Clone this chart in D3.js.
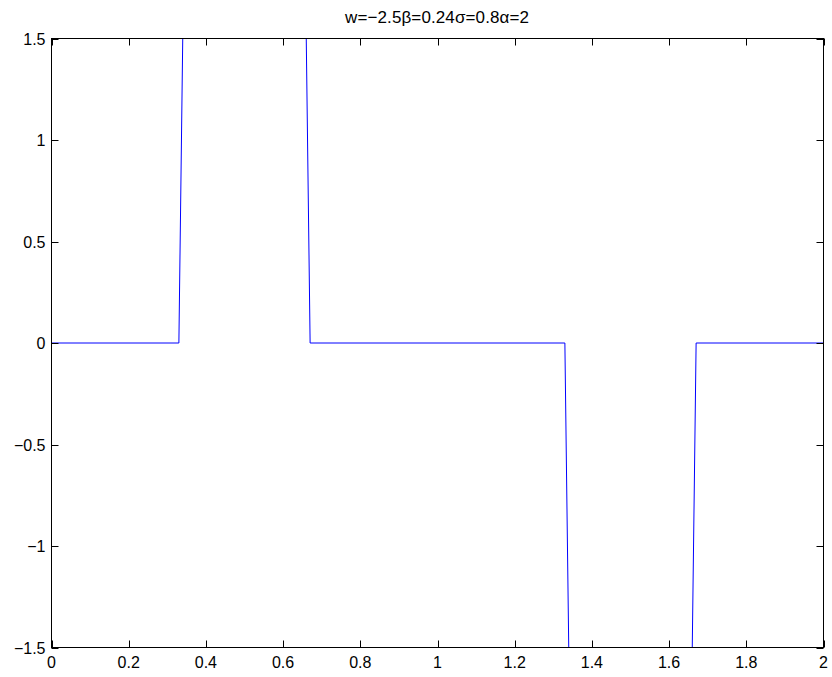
<!DOCTYPE html>
<html>
<head>
<meta charset="utf-8">
<script src="https://cdn.jsdelivr.net/npm/d3@7"></script>
<style>
  body { margin: 0; background: #fff; }
  text { font-family: "Liberation Sans", Arial, Helvetica, sans-serif; fill: #000; }
</style>
</head>
<body>
<div id="chart"></div>
<script>
// data (corner points of the sampled curve)
var xValues = [0, 0.33, 0.34, 0.66, 0.67, 1.33, 1.34, 1.66, 1.67, 2];
var yValues = [0, 0, 1.5, 1.5, 0, 0, -1.5, -1.5, 0, 0];
var xTicks = [0, 0.2, 0.4, 0.6, 0.8, 1, 1.2, 1.4, 1.6, 1.8, 2];
var yTicks = [-1.5, -1, -0.5, 0, 0.5, 1, 1.5];
var title = 'w=\u22122.5\u03b2=0.24\u03c3=0.8\u03b1=2';

// params
var width = 832;
var height = 677;
var plotLeft = 51.5;
var plotRight = 823.5;
var plotTop = 38.5;
var plotBottom = 647.5;
var tickLen = 7;

var fmt = function(v) {
  return String(v).replace('-', '\u2212');
};

var svg = d3
  .select('#chart')
  .append('svg')
  .attr('width', width)
  .attr('height', height);

var x = d3.scaleLinear().domain([0, 2]).range([plotLeft, plotRight]);
var y = d3.scaleLinear().domain([-1.5, 1.5]).range([plotBottom, plotTop]);

// the curve
var points = xValues.map((v, i) => [v, yValues[i]]);
var line = d3
  .line()
  .x(d => x(d[0]))
  .y(d => y(d[1]));

svg
  .append('path')
  .datum(points)
  .attr('fill', 'none')
  .attr('stroke', '#0000ff')
  .attr('stroke-width', 1)
  .attr('d', line);

// box
svg
  .append('rect')
  .attr('x', plotLeft)
  .attr('y', plotTop)
  .attr('width', plotRight - plotLeft)
  .attr('height', plotBottom - plotTop)
  .attr('fill', 'none')
  .attr('stroke', '#000')
  .attr('stroke-width', 1);

// ticks (inside, on all four sides)
var ticks = svg.append('g').attr('stroke', '#000').attr('stroke-width', 1);
xTicks.forEach(function(t) {
  var px = Math.round(x(t)) + 0.5;
  ticks.append('line').attr('x1', px).attr('x2', px).attr('y1', plotBottom).attr('y2', plotBottom - tickLen);
  ticks.append('line').attr('x1', px).attr('x2', px).attr('y1', plotTop).attr('y2', plotTop + tickLen);
});
yTicks.forEach(function(t) {
  var py = Math.round(y(t)) + 0.5;
  ticks.append('line').attr('x1', plotLeft).attr('x2', plotLeft + tickLen).attr('y1', py).attr('y2', py);
  ticks.append('line').attr('x1', plotRight).attr('x2', plotRight - tickLen).attr('y1', py).attr('y2', py);
});

// tick labels
svg
  .append('g')
  .selectAll('text')
  .data(xTicks)
  .enter()
  .append('text')
  .attr('x', d => x(d))
  .attr('y', plotBottom + 20)
  .attr('text-anchor', 'middle')
  .style('font-size', '16px')
  .text(fmt);

svg
  .append('g')
  .selectAll('text')
  .data(yTicks)
  .enter()
  .append('text')
  .attr('x', plotLeft - 6)
  .attr('y', d => y(d) + 6)
  .attr('text-anchor', 'end')
  .style('font-size', '16px')
  .text(fmt);

// title
svg
  .append('text')
  .attr('x', 437)
  .attr('y', 23)
  .attr('text-anchor', 'middle')
  .attr('textLength', 184)
  .attr('lengthAdjust', 'spacing')
  .style('font-size', '17px')
  .text(title);
</script>
</body>
</html>
